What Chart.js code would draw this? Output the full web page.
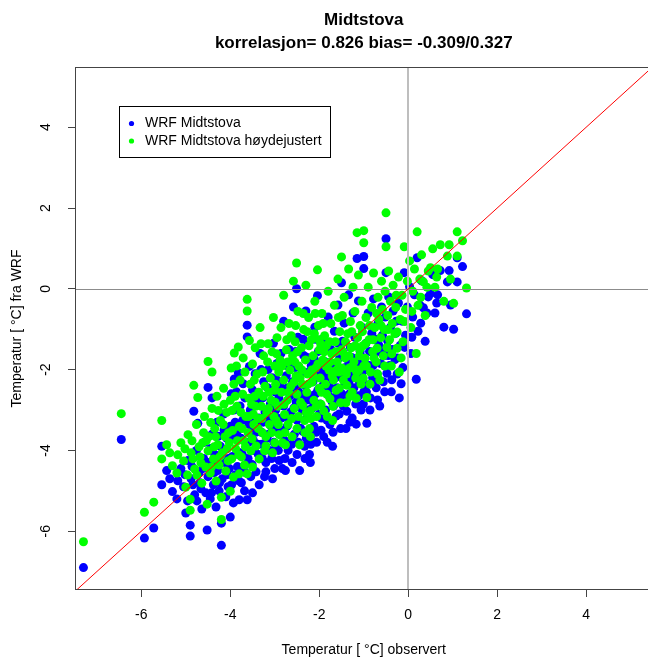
<!DOCTYPE html>
<html>
<head>
<meta charset="utf-8">
<script src="https://cdn.jsdelivr.net/npm/chart.js@4"></script>
<style>
html,body{margin:0;padding:0;background:#fff;overflow:hidden;}
canvas{display:block;}
</style>
</head>
<body>
<canvas id="chart" width="657" height="661"></canvas>
<script>
// observert temperatur og WRF (original + hoydejustert), same rekkefolge
let obsTemp = [
-7.30,-6.45,-5.93,-5.72,-5.54,-5.54,-5.43,-5.30,-5.20,-5.11,
-5.05,-5.00,-4.95,-4.90,-4.90,-4.88,-4.82,-4.80,-4.75,-4.73,
-4.70,-4.66,-4.64,-4.60,-4.58,-4.55,-4.52,-4.50,-4.50,-4.48,
-4.45,-4.41,-4.41,-4.38,-4.35,-4.32,-4.30,-4.28,-4.25,-4.22,
-4.20,-4.20,-4.18,-4.15,-4.12,-4.10,-4.08,-4.05,-4.02,-4.00,
-4.00,-3.98,-3.95,-3.93,-3.91,-3.88,-3.85,-3.82,-3.80,-3.80,
-3.78,-3.75,-3.72,-3.70,-3.68,-3.65,-3.62,-3.62,-3.62,-3.60,
-3.57,-3.55,-3.54,-3.52,-3.50,-3.50,-3.47,-3.45,-3.42,-3.40,
-3.38,-3.35,-3.33,-3.30,-3.28,-3.25,-3.22,-3.20,-3.20,-3.18,
-3.15,-3.12,-3.10,-3.08,-3.05,-3.03,-3.00,-3.00,-3.00,-2.97,
-2.95,-2.93,-2.90,-2.88,-2.85,-2.83,-2.80,-2.80,-2.78,-2.76,
-2.74,-2.72,-2.70,-2.68,-2.66,-2.64,-2.62,-2.60,-2.58,-2.56,
-2.54,-2.52,-2.51,-2.50,-2.50,-2.48,-2.46,-2.44,-2.42,-2.40,
-2.38,-2.37,-2.35,-2.33,-2.31,-2.30,-2.28,-2.26,-2.24,-2.22,
-2.20,-2.20,-2.18,-2.16,-2.14,-2.12,-2.10,-2.08,-2.06,-2.04,
-2.02,-2.00,-2.00,-1.98,-1.96,-1.94,-1.92,-1.90,-1.88,-1.86,
-1.84,-1.83,-1.80,-1.78,-1.76,-1.74,-1.72,-1.70,-1.68,-1.66,
-1.64,-1.62,-1.60,-1.58,-1.56,-1.54,-1.52,-1.50,-1.50,-1.48,
-1.46,-1.44,-1.42,-1.40,-1.38,-1.36,-1.34,-1.32,-1.30,-1.28,
-1.26,-1.24,-1.22,-1.20,-1.18,-1.16,-1.15,-1.14,-1.12,-1.10,
-1.08,-1.06,-1.04,-1.02,-1.00,-1.00,-1.00,-0.97,-0.95,-0.93,
-0.90,-0.88,-0.85,-0.82,-0.80,-0.78,-0.75,-0.72,-0.70,-0.68,
-0.66,-0.64,-0.62,-0.60,-0.58,-0.56,-0.54,-0.52,-0.50,-0.50,
-0.48,-0.46,-0.44,-0.42,-0.40,-0.38,-0.36,-0.34,-0.30,-0.28,
-0.25,-0.25,-0.22,-0.20,-0.18,-0.14,-0.12,-0.09,-0.06,-0.02,
0.03,0.06,0.10,0.14,0.18,0.20,0.22,0.26,0.30,0.34,
0.38,0.45,0.50,0.55,0.60,0.66,0.72,0.80,0.88,0.95,
1.02,1.10,1.10,1.22,1.31,-3.44,-3.36,-3.27,-3.14,-3.06,
-2.98,-2.91,-2.86,-2.79,-2.71,-2.63,-2.57,-2.49,-2.43,-2.36,
-2.29,-2.23,-2.17,-2.11,-2.03,-1.97,-1.91,-1.85,-1.77,-1.71,
-1.63,-1.57,-1.49,-1.41,-1.33,-1.27,-1.19,-1.11,-1.03,-0.96,
-0.87,-0.79,-0.71,-3.92,-3.84,-3.76,-3.67,-3.58,-4.62,-4.44,
-4.36,-4.27,-4.16,-4.07,-4.76,-4.86,-3.48,-3.31,-3.16,-3.02,
-4.68,-4.54,-4.42,-4.33,-4.24,-4.14,-4.04,-3.97,-3.89,-3.81,
-3.73,-3.66,-3.59,-3.51,-3.43,-3.37,-3.29,-3.23,-3.13,-3.07,
-2.99,-2.92,-2.84,-2.77,-2.69,-2.61,-2.55,-2.47,-2.39,-2.32,
-2.25,-2.19,-2.13,-2.07,-2.01,-1.95,-1.89,-1.82,-1.75,-1.69,
-1.61,-1.55,-1.47,-1.39,-1.31,-1.23,-1.17,-1.09,-1.01,-0.94,
-0.86,-0.77,-0.69,-0.61,-0.53,-0.45,-0.37,-0.27,-0.16,-0.08,
0.08,0.28,0.42,0.64,0.92,-5.36,-5.18,-5.02,-4.96,-4.84,
-3.96,-3.86,-3.71,-3.46,-3.26,-2.96,-2.73,-2.53,-2.27,-2.09
];
let wrfTemp = [
-6.90,-3.73,-6.17,-5.92,-3.90,-4.85,-4.50,-5.02,-5.20,-4.45,
-4.90,-5.55,-4.25,-5.85,-6.12,-4.70,-3.03,-5.10,-5.25,-3.33,
-4.55,-4.95,-5.45,-4.20,-3.80,-5.05,-5.97,-2.44,-4.65,-4.30,
-5.20,-2.70,-3.60,-4.85,-4.10,-5.40,-3.30,-4.50,-5.00,-3.90,
-6.35,-5.80,-4.70,-3.10,-4.30,-5.15,-3.70,-4.90,-4.45,-5.65,
-3.40,-2.60,-4.15,-5.30,-2.23,-4.60,-3.55,-2.08,-5.22,-4.05,
-2.90,-4.80,-3.25,-4.40,-5.00,-3.80,-0.90,-1.19,-5.22,-4.20,
-1.92,-3.00,-4.65,-3.50,-2.50,-5.05,-4.00,-3.30,-4.53,-2.75,
-3.85,-4.85,-1.60,-3.55,-4.20,-2.30,-3.05,-4.30,-4.53,-3.70,
-2.00,-4.00,-2.85,-3.40,-4.70,-1.35,-4.45,-3.15,-2.55,-3.90,
-1.85,-3.55,-4.25,-2.40,-3.20,-4.45,-0.80,-2.90,-3.75,-4.50,
-2.15,-3.40,-4.00,-1.50,-2.65,-3.05,-3.85,-2.30,-0.45,-3.60,
-1.95,-2.80,0.00,-4.10,-3.25,-1.20,-2.55,-4.50,-3.45,-2.10,
-3.00,-3.53,-1.65,-3.90,-2.40,-0.55,-3.20,-2.75,-1.35,-4.10,
-4.30,-3.66,-1.90,-2.95,-2.30,-3.40,-0.95,-2.60,-3.80,-0.17,
-1.55,-3.10,-2.15,-2.85,-3.50,-1.25,-2.40,-3.66,-1.80,-3.00,
-2.05,-3.25,-0.70,-2.65,-3.36,-1.50,-2.25,-3.90,-2.90,-1.05,
-1.95,-3.15,-2.45,-0.40,-2.70,-1.70,-3.46,0.15,-2.15,-1.30,
-2.90,-0.85,-2.35,-3.46,-3.03,-1.75,-0.15,-2.60,-1.45,-2.10,
-3.20,-0.60,-2.45,-1.20,-2.85,-2.70,0.75,-1.85,-0.30,-2.30,
-1.55,-3.00,-0.95,-2.05,0.50,0.80,-2.55,-2.36,-1.35,-3.33,
-0.60,-1.90,-2.70,-1.10,-2.20,-0.25,-1.60,-2.45,-2.11,-0.85,
-1.40,-2.90,-1.85,-0.45,-1.15,-2.30,-1.65,-0.70,1.24,0.40,
-2.09,-1.30,-0.20,-1.90,-0.95,-2.55,-1.50,-0.55,-1.75,-1.10,
-2.11,-1.71,-0.35,-2.70,-1.40,-0.80,-1.95,0.40,-1.15,-0.45,
0.05,-1.60,-0.70,-0.15,-2.24,0.77,-1.05,-0.40,0.20,-0.47,
-1.30,-0.20,-0.12,0.35,-0.60,-0.15,0.45,-0.95,0.17,-0.40,
-1.00,0.77,0.17,0.55,-0.62,-2.10,-3.20,-2.70,-3.60,-2.20,
-3.00,-2.70,-1.60,-3.50,-2.45,-1.80,-2.95,-2.20,-2.85,-1.25,
-3.70,-2.05,-2.65,-1.75,-2.50,-2.00,-1.50,-2.55,-1.95,-2.80,
-2.20,-1.35,-2.60,-1.95,-2.30,-1.70,-2.05,-2.65,-1.70,-2.00,
-1.55,-1.90,-1.25,-3.00,-4.40,-3.70,-2.70,-3.35,-4.45,-3.95,
-4.55,-3.65,-4.00,-4.60,-4.00,-4.40,-3.75,-2.00,-2.45,-3.80,
-4.80,-4.40,-5.05,-4.30,-4.80,-3.50,-4.20,-4.85,-3.30,-4.75,
-4.10,-4.55,-3.80,-4.35,-3.55,-4.10,-3.85,-4.65,-3.20,-4.20,
-3.45,-4.00,-2.55,-4.20,-3.20,-4.30,-2.45,-3.80,-2.65,-4.20,
-3.00,-3.85,-2.80,-3.55,-1.90,-3.20,-2.20,-3.80,-2.45,-3.55,
-2.65,-3.10,-2.20,-2.75,-3.30,-2.60,-3.35,-2.15,-2.85,-2.55,
-3.00,-2.35,-2.75,-1.55,-2.55,-1.65,-2.25,-0.80,-2.35,-1.45,
-1.20,-0.85,-0.60,-0.35,0.45,-4.70,-4.75,-4.60,-5.25,-4.85,
-3.65,-2.55,-2.35,-2.90,-3.30,-2.25,-1.90,-1.55,-1.70,-1.25
];
let wrfHoydeTemp = [
-6.26,-3.09,-5.53,-5.28,-3.26,-4.21,-3.86,-4.38,-4.56,-3.81,
-4.26,-4.91,-3.61,-5.21,-5.48,-4.06,-2.39,-4.46,-4.61,-2.69,
-3.91,-4.31,-4.81,-3.56,-3.16,-4.41,-5.33,-1.80,-4.01,-3.66,
-4.56,-2.06,-2.96,-4.21,-3.46,-4.76,-2.66,-3.86,-4.36,-3.26,
-5.71,-5.16,-4.06,-2.46,-3.66,-4.51,-3.06,-4.26,-3.81,-5.01,
-2.76,-1.96,-3.51,-4.66,-1.59,-3.96,-2.91,-1.44,-4.58,-3.41,
-2.26,-4.16,-2.61,-3.76,-4.36,-3.16,-0.26,-0.55,-4.58,-3.56,
-1.28,-2.36,-4.01,-2.86,-1.86,-4.41,-3.36,-2.66,-3.89,-2.11,
-3.21,-4.21,-0.96,-2.91,-3.56,-1.66,-2.41,-3.66,-3.89,-3.06,
-1.36,-3.36,-2.21,-2.76,-4.06,-0.71,-3.81,-2.51,-1.91,-3.26,
-1.21,-2.91,-3.61,-1.76,-2.56,-3.81,-0.16,-2.26,-3.11,-3.86,
-1.51,-2.76,-3.36,-0.86,-2.01,-2.41,-3.21,-1.66,0.19,-2.96,
-1.31,-2.16,0.64,-3.46,-2.61,-0.56,-1.91,-3.86,-2.81,-1.46,
-2.36,-2.89,-1.01,-3.26,-1.76,0.09,-2.56,-2.11,-0.71,-3.46,
-3.66,-3.02,-1.26,-2.31,-1.66,-2.76,-0.31,-1.96,-3.16,0.47,
-0.91,-2.46,-1.51,-2.21,-2.86,-0.61,-1.76,-3.02,-1.16,-2.36,
-1.41,-2.61,-0.06,-2.01,-2.72,-0.86,-1.61,-3.26,-2.26,-0.41,
-1.31,-2.51,-1.81,0.24,-2.06,-1.06,-2.82,0.79,-1.51,-0.66,
-2.26,-0.21,-1.71,-2.82,-2.39,-1.11,0.49,-1.96,-0.81,-1.46,
-2.56,0.04,-1.81,-0.56,-2.21,-2.06,1.39,-1.21,0.34,-1.66,
-0.91,-2.36,-0.31,-1.41,1.14,1.44,-1.91,-1.72,-0.71,-2.69,
0.04,-1.26,-2.06,-0.46,-1.56,0.39,-0.96,-1.81,-1.47,-0.21,
-0.76,-2.26,-1.21,0.19,-0.51,-1.66,-1.01,-0.06,1.88,1.04,
-1.45,-0.66,0.44,-1.26,-0.31,-1.91,-0.86,0.09,-1.11,-0.46,
-1.47,-1.07,0.29,-2.06,-0.76,-0.16,-1.31,1.04,-0.51,0.19,
0.69,-0.96,-0.06,0.49,-1.60,1.41,-0.41,0.24,0.84,0.17,
-0.66,0.44,0.52,0.99,0.04,0.49,1.09,-0.31,0.81,0.24,
-0.36,1.41,0.81,1.19,0.02,-1.46,-2.56,-2.06,-2.96,-1.56,
-2.36,-2.06,-0.96,-2.86,-1.81,-1.16,-2.31,-1.56,-2.21,-0.61,
-3.06,-1.41,-2.01,-1.11,-1.86,-1.36,-0.86,-1.91,-1.31,-2.16,
-1.56,-0.71,-1.96,-1.31,-1.66,-1.06,-1.41,-2.01,-1.06,-1.36,
-0.91,-1.26,-0.61,-2.36,-3.76,-3.06,-2.06,-2.71,-3.81,-3.31,
-3.91,-3.01,-3.36,-3.96,-3.36,-3.76,-3.11,-1.36,-1.81,-3.16,
-4.16,-3.76,-4.41,-3.66,-4.16,-2.86,-3.56,-4.21,-2.66,-4.11,
-3.46,-3.91,-3.16,-3.71,-2.91,-3.46,-3.21,-4.01,-2.56,-3.56,
-2.81,-3.36,-1.91,-3.56,-2.56,-3.66,-1.81,-3.16,-2.01,-3.56,
-2.36,-3.21,-2.16,-2.91,-1.26,-2.56,-1.56,-3.16,-1.81,-2.91,
-2.01,-2.46,-1.56,-2.11,-2.66,-1.96,-2.71,-1.51,-2.21,-1.91,
-2.36,-1.71,-2.11,-0.91,-1.91,-1.01,-1.61,-0.16,-1.71,-0.81,
-0.56,-0.21,0.04,0.29,1.09,-4.06,-4.11,-3.96,-4.61,-4.21,
-3.01,-1.91,-1.71,-2.26,-2.66,-1.61,-1.26,-0.91,-1.06,-0.61
];
let xTicks = [-6,-4,-2,0,2,4];
let yTicks = [-6,-4,-2,0,2,4];
let seriesNames = ["WRF Midtstova","WRF Midtstova høydejustert"];
let titleLines = ["Midtstova","korrelasjon= 0.826 bias= -0.309/0.327"];
let xTitle = "Temperatur [ °C] observert";
let yTitle = "Temperatur [ °C] fra WRF";

let xMin = -7.49, xMax = 5.49, yMin = -7.455, yMax = 5.49;
let font = "Liberation Sans, Arial, Helvetica, sans-serif";

function points(xs, ys){
let out = [];
xs.forEach((x,i)=>{ out.push({x:x, y:ys[i]}); });
return out;
}

let extras = {
id:"extras",
afterDatasetsDraw(chart){
let ctx = chart.ctx;
let a = chart.chartArea;
let sx = chart.scales.x, sy = chart.scales.y;
ctx.save();
ctx.beginPath();
ctx.rect(a.left, a.top, a.right-a.left, a.bottom-a.top);
ctx.clip();
// x=0
ctx.strokeStyle = "#bebebe";
ctx.lineWidth = 2;
ctx.beginPath();
ctx.moveTo(Math.round(sx.getPixelForValue(0)), a.top);
ctx.lineTo(Math.round(sx.getPixelForValue(0)), a.bottom);
ctx.stroke();
// y=0
ctx.strokeStyle = "#8c8c8c";
ctx.lineWidth = 1;
ctx.beginPath();
ctx.moveTo(a.left, Math.round(sy.getPixelForValue(0))+0.5);
ctx.lineTo(a.right, Math.round(sy.getPixelForValue(0))+0.5);
ctx.stroke();
// 1:1 linje
ctx.strokeStyle = "#ff0000";
ctx.beginPath();
ctx.moveTo(sx.getPixelForValue(xMin), sy.getPixelForValue(xMin));
ctx.lineTo(sx.getPixelForValue(xMax), sy.getPixelForValue(xMax));
ctx.stroke();
ctx.restore();
ctx.save();
ctx.strokeStyle = "#444";
ctx.lineWidth = 1;
ctx.strokeRect(a.left+0.5, a.top+0.5, a.right-a.left-1, a.bottom-a.top-1);
ctx.restore();
},
afterDraw(chart){
let ctx = chart.ctx;
let a = chart.chartArea;
let sy = chart.scales.y;
let cx = (a.left+a.right)/2;
let cy = (a.top+a.bottom)/2;
ctx.save();
ctx.fillStyle = "#000";
ctx.textAlign = "center";
ctx.textBaseline = "middle";
ctx.font = "bold 17px " + font;
ctx.fillText(titleLines[0], cx, 20);
ctx.fillText(titleLines[1], cx, 43);
ctx.font = "14px " + font;
ctx.fillText(xTitle, cx, 650);
yTicks.forEach(v=>{
ctx.save();
ctx.translate(46, sy.getPixelForValue(v));
ctx.rotate(-Math.PI/2);
ctx.fillText(String(v), 0, 0);
ctx.restore();
});
ctx.save();
ctx.translate(17, cy);
ctx.rotate(-Math.PI/2);
ctx.fillText(yTitle, 0, 0);
ctx.restore();
// legende
ctx.strokeStyle = "#000";
ctx.lineWidth = 1;
ctx.strokeRect(119.5, 106.5, 211, 51);
let colors = ["#0000ff","#00ff00"];
let rows = [123.5, 141];
ctx.textAlign = "left";
seriesNames.forEach((n,i)=>{
ctx.fillStyle = colors[i];
ctx.beginPath();
ctx.arc(131.5, rows[i], 2.6, 0, Math.PI*2);
ctx.fill();
ctx.fillStyle = "#000";
ctx.fillText(n, 145, rows[i]);
});
ctx.restore();
}
};

let ctx = document.getElementById("chart");
let chart = new Chart(ctx,{
type:"scatter",
data:{
datasets:[
{label:seriesNames[0], data:points(obsTemp, wrfTemp), backgroundColor:"#0000ff", pointRadius:4.5, pointBorderWidth:0, order:2},
{label:seriesNames[1], data:points(obsTemp, wrfHoydeTemp), backgroundColor:"#00ff00", pointRadius:4.5, pointBorderWidth:0, order:1}
]
},
options:{
responsive:false,
animation:false,
devicePixelRatio:1,
layout:{padding:{top:67,left:0,right:0,bottom:0}},
plugins:{legend:{display:false}, tooltip:{enabled:false}, title:{display:false}},
scales:{
x:{
type:"linear", min:xMin, max:xMax,
afterBuildTicks:(s)=>{ s.ticks = xTicks.map(v=>({value:v})); },
afterFit:(s)=>{ s.height = 71; },
grid:{drawOnChartArea:false, tickLength:7, tickColor:"#444"},
border:{display:false},
ticks:{color:"#000", font:{family:font, size:14}, padding:10, maxRotation:0, minRotation:0}
},
y:{
type:"linear", min:yMin, max:yMax,
afterBuildTicks:(s)=>{ s.ticks = yTicks.map(v=>({value:v})); },
afterFit:(s)=>{ s.width = 75; },
grid:{drawOnChartArea:false, tickLength:7, tickColor:"#444"},
border:{display:false},
ticks:{color:"rgba(0,0,0,0)", font:{family:font, size:14}}
}
}
},
plugins:[extras]
});
</script>
</body>
</html>
